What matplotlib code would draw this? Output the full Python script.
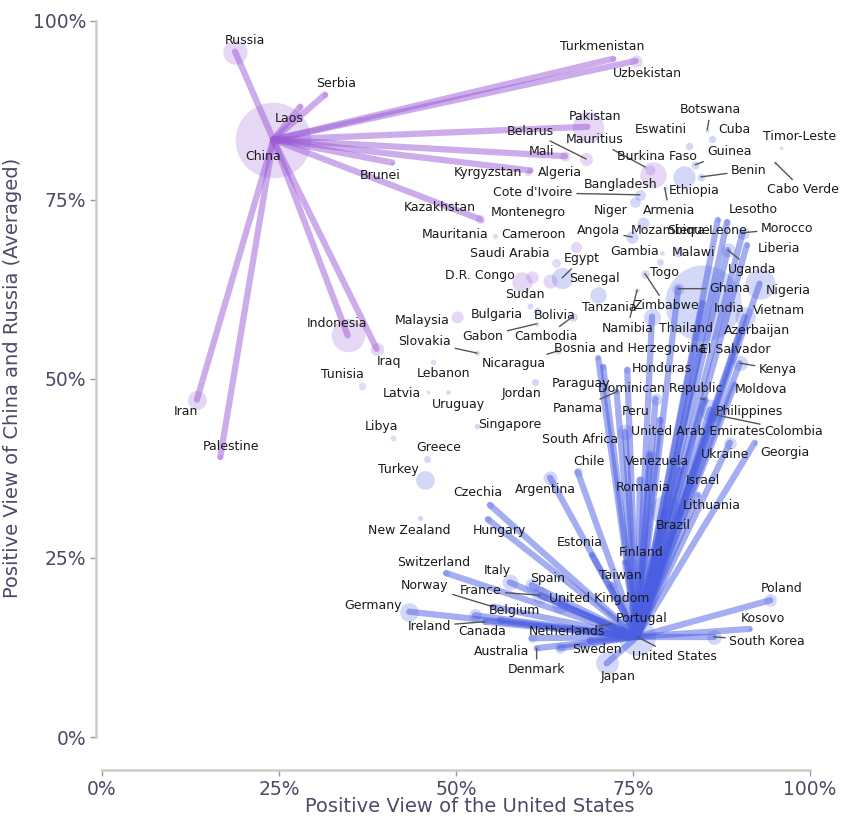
import matplotlib
matplotlib.use("Agg")
import matplotlib.pyplot as plt

# positive views (%), population in millions (circle area)
countries = [
    "China", "Russia", "Serbia", "Laos", "Turkmenistan", "Uzbekistan", "Pakistan",
    "Belarus", "Mali", "Kyrgyzstan", "Algeria", "Brunei", "Kazakhstan", "Indonesia",
    "Iraq", "Iran", "Palestine", "Montenegro", "Mauritania", "Cameroon",
    "Saudi Arabia", "D.R. Congo", "Sudan", "Senegal", "Egypt", "Malaysia",
    "Bulgaria", "Bolivia", "Gabon", "Cambodia", "Slovakia", "Lebanon", "Tunisia",
    "Latvia", "Libya", "Uruguay", "Greece", "Turkey", "New Zealand", "Nicaragua",
    "Jordan", "Singapore", "Botswana", "Cuba", "Eswatini", "Timor-Leste",
    "Mauritius", "Bangladesh", "Burkina Faso", "Guinea", "Ethiopia", "Benin",
    "Cabo Verde", "Cote d'Ivoire", "Niger", "Armenia", "Angola", "Mozambique",
    "Gambia", "Malawi", "Togo", "Zimbabwe", "Namibia", "Tanzania", "Lesotho",
    "Sierra Leone", "Morocco", "Liberia", "Uganda", "Ghana", "Nigeria", "India",
    "Vietnam", "Thailand", "Azerbaijan", "El Salvador", "Kenya", "Moldova",
    "Philippines", "Colombia", "Dominican Republic", "United Arab Emirates", "Peru",
    "Honduras", "Panama", "Paraguay", "Bosnia and Herzegovina", "Brazil",
    "South Africa", "Ukraine", "Georgia", "Chile", "Argentina", "Venezuela",
    "Romania", "Israel", "Lithuania", "Czechia", "Hungary", "Estonia", "Finland",
    "Taiwan", "Switzerland", "Italy", "Spain", "France", "United Kingdom", "Norway",
    "Germany", "Belgium", "Ireland", "Canada", "Portugal", "Netherlands",
    "Australia", "Denmark", "Sweden", "United States", "Japan", "Poland", "Kosovo",
    "South Korea",
]
us_view = [
    24.2, 18.8, 31.5, 28.0, 72.2, 75.4, 68.6,
    68.4, 65.4, 60.2, 60.5, 41.0, 53.4, 34.7,
    38.8, 13.4, 16.7, 53.7, 55.5, 66.9,
    60.7, 59.3, 63.3, 64.1, 65.0, 50.1,
    60.5, 61.4, 61.4, 66.5, 53.0, 46.8, 36.7,
    46.0, 41.1, 48.9, 45.9, 45.6, 44.9, 64.4,
    61.2, 53.0, 85.5, 86.2, 82.9, 95.9,
    76.7, 77.8, 77.4, 83.8, 82.2, 84.6,
    95.1, 76.0, 75.3, 79.5, 74.9, 76.4,
    79.1, 81.4, 78.8, 76.7, 75.6, 70.1, 87.0,
    88.3, 90.5, 91.1, 88.4, 81.4, 92.9, 84.9,
    90.8, 77.7, 90.3, 84.5, 90.1, 89.4,
    85.9, 86.6, 85.2, 78.8, 78.2,
    74.2, 72.7, 70.8, 70.1, 79.5,
    73.9, 88.7, 92.2, 67.2, 63.3, 77.4,
    76.0, 81.6, 84.2, 54.8, 54.5, 69.2, 73.9,
    72.0, 48.6, 57.6, 60.7, 61.9, 64.7, 55.2,
    43.4, 56.2, 54.1, 52.7, 70.3, 60.7,
    64.7, 61.4, 68.9, 75.6, 71.3, 94.4, 91.5,
    86.4,
]
cr_view = [
    83.4, 95.7, 89.7, 88.0, 94.7, 94.4, 85.2,
    80.7, 81.1, 78.8, 79.1, 80.2, 72.3, 56.1,
    54.2, 47.1, 39.1, 72.1, 70.0, 68.4,
    64.2, 63.5, 63.7, 66.2, 64.1, 58.7,
    60.2, 59.5, 57.7, 58.7, 53.6, 52.4, 49.0,
    48.2, 41.8, 48.2, 38.8, 35.9, 30.6, 53.9,
    49.6, 43.4, 84.8, 83.5, 82.5, 82.3,
    79.6, 78.5, 79.2, 79.9, 78.2, 78.2,
    80.2, 75.7, 74.7, 76.7, 69.8, 71.8,
    67.6, 67.7, 66.3, 64.7, 62.4, 61.7, 72.2,
    71.9, 70.4, 68.7, 68.0, 62.6, 63.3, 60.6,
    58.7, 58.7, 56.8, 54.0, 52.2, 49.2,
    45.7, 45.0, 47.1, 44.3, 47.2,
    51.3, 48.2, 51.7, 52.9, 31.7,
    42.6, 41.1, 41.1, 37.0, 36.2, 39.4,
    35.9, 37.3, 33.8, 32.4, 30.4, 25.4, 24.4,
    21.2, 22.9, 21.6, 21.2, 19.8, 18.4, 18.2,
    17.5, 16.3, 16.1, 17.0, 15.5, 13.8,
    12.4, 12.4, 13.5, 14.0, 10.3, 19.1, 15.1,
    14.0,
]
population = [
    1410, 144, 7, 7.5, 6.5, 35, 240,
    40, 22, 7, 8, 0.5, 19, 275,
    43, 88, 5, 0.6, 4.8, 28,
    36, 100, 47, 17, 110, 34,
    6.5, 12, 2.4, 17, 5.4, 5.5, 12,
    1.9, 7, 3.4, 10, 85, 5, 6.9,
    11, 6, 2.6, 11, 12, 1.3,
    1.3, 170, 22, 14, 120, 13,
    0.6, 28, 26, 2.8, 36, 33,
    2.7, 20, 9, 16, 2.6, 65, 2.3,
    8.6, 37, 5.4, 48, 34, 225, 1430,
    100, 70, 10, 6.3, 55, 2.5,
    115, 52, 11, 10, 34,
    10, 4.4, 7, 3.2, 215,
    60, 37, 3.7, 19, 46, 28,
    19, 9.7, 2.8, 10.5, 9.6, 1.3, 5.5,
    23, 8.7, 59, 48, 68, 67, 5.5,
    84, 11.7, 5.1, 39, 10, 17.8,
    26, 5.9, 10.5, 335, 125, 38, 1.8,
    52,
]
linked = {
    "Russia", "Serbia", "Laos", "Turkmenistan", "Uzbekistan", "Pakistan", "Mali",
    "Algeria", "Brunei", "Kazakhstan", "Indonesia", "Iraq", "Iran", "Palestine",
    "Lesotho", "Sierra Leone", "Morocco", "Liberia", "Uganda", "Ghana", "Nigeria",
    "India", "Vietnam", "Thailand", "Azerbaijan", "El Salvador", "Kenya", "Moldova",
    "Philippines", "Colombia", "Dominican Republic", "United Arab Emirates", "Peru",
    "Honduras", "Panama", "Paraguay", "Bosnia and Herzegovina", "Brazil",
    "South Africa", "Ukraine", "Georgia", "Chile", "Argentina", "Venezuela",
    "Romania", "Israel", "Lithuania", "Czechia", "Hungary", "Estonia", "Finland",
    "Taiwan", "Switzerland", "Italy", "Spain", "France", "United Kingdom", "Norway",
    "Germany", "Belgium", "Ireland", "Canada", "Portugal", "Netherlands",
    "Australia", "Denmark", "Sweden", "Japan", "Poland", "Kosovo", "South Korea",
}

# where each label sits (layout only), and which labels need a leader line
label_xy = {
    "China": (22.7, 81.0), "Russia": (20.2, 97.3), "Serbia": (33.1, 91.3),
    "Laos": (26.4, 86.3), "Turkmenistan": (70.6, 96.4), "Uzbekistan": (77.1, 92.7),
    "Pakistan": (69.6, 86.7), "Belarus": (60.5, 84.6), "Mali": (62.1, 81.7),
    "Kyrgyzstan": (54.5, 78.8), "Algeria": (64.7, 78.8), "Brunei": (39.3, 78.4),
    "Kazakhstan": (47.7, 73.9), "Indonesia": (33.2, 57.7), "Iraq": (40.5, 52.4),
    "Iran": (11.9, 45.4), "Palestine": (18.2, 40.5), "Montenegro": (60.2, 73.2),
    "Mauritania": (49.9, 70.1), "Cameroon": (61.0, 70.1), "Saudi Arabia": (57.6, 67.5),
    "D.R. Congo": (53.4, 64.4), "Sudan": (59.7, 61.8), "Senegal": (69.6, 64.0),
    "Egypt": (67.8, 66.8), "Malaysia": (45.3, 58.1), "Bulgaria": (55.8, 59.0),
    "Bolivia": (64.0, 58.9), "Gabon": (53.8, 55.9), "Cambodia": (62.7, 55.9),
    "Slovakia": (45.6, 55.2), "Lebanon": (48.3, 50.7), "Tunisia": (34.0, 50.6),
    "Latvia": (42.4, 47.9), "Libya": (39.5, 43.3), "Uruguay": (50.3, 46.4),
    "Greece": (47.5, 40.4), "Turkey": (41.8, 37.4), "New Zealand": (43.4, 28.9),
    "Nicaragua": (58.2, 52.1), "Jordan": (59.2, 47.9), "Singapore": (57.6, 43.7),
    "Botswana": (86.0, 87.6), "Cuba": (89.4, 84.8), "Eswatini": (79.0, 84.8),
    "Timor-Leste": (98.6, 83.8), "Mauritius": (69.6, 83.4), "Bangladesh": (73.3, 77.2),
    "Burkina Faso": (78.4, 81.1), "Guinea": (88.7, 81.7), "Ethiopia": (83.6, 76.3),
    "Benin": (91.4, 79.1), "Cabo Verde": (99.0, 76.4), "Cote d'Ivoire": (60.9, 76.0),
    "Niger": (71.9, 73.5), "Armenia": (80.1, 73.5), "Angola": (70.1, 70.7),
    "Mozambique": (80.4, 70.7), "Gambia": (75.2, 67.8), "Malawi": (83.6, 67.7),
    "Togo": (79.5, 64.9), "Zimbabwe": (79.7, 60.2), "Namibia": (74.2, 57.1),
    "Tanzania": (71.6, 59.9), "Lesotho": (92.0, 73.6), "Sierra Leone": (85.5, 70.7),
    "Morocco": (96.8, 71.0), "Liberia": (95.6, 68.2), "Uganda": (91.8, 65.3),
    "Ghana": (88.7, 62.6), "Nigeria": (97.0, 62.4), "India": (88.6, 59.8),
    "Vietnam": (95.6, 59.5), "Thailand": (82.5, 57.1), "Azerbaijan": (92.5, 56.7),
    "El Salvador": (89.4, 54.1), "Kenya": (95.5, 51.3), "Moldova": (93.1, 48.5),
    "Philippines": (91.5, 45.5), "Colombia": (97.7, 42.7),
    "Dominican Republic": (78.9, 48.6), "United Arab Emirates": (84.2, 42.7),
    "Peru": (75.4, 45.4), "Honduras": (79.1, 51.5), "Panama": (67.2, 45.8),
    "Paraguay": (67.7, 49.3), "Bosnia and Herzegovina": (74.6, 54.2),
    "Brazil": (80.7, 29.5), "South Africa": (67.5, 41.5), "Ukraine": (88.0, 39.4),
    "Georgia": (96.5, 39.7), "Chile": (68.8, 38.5), "Argentina": (62.7, 34.5),
    "Venezuela": (78.4, 38.5), "Romania": (76.5, 34.9), "Israel": (84.9, 35.8),
    "Lithuania": (86.2, 32.3), "Czechia": (53.1, 34.1), "Hungary": (56.2, 28.8),
    "Estonia": (67.5, 27.1), "Finland": (76.1, 25.7), "Taiwan": (73.3, 22.6),
    "Switzerland": (46.8, 24.4), "Italy": (55.8, 23.3), "Spain": (62.9, 22.2),
    "France": (53.5, 20.4), "United Kingdom": (70.3, 19.4), "Norway": (45.6, 21.1),
    "Germany": (38.3, 18.3), "Belgium": (58.2, 17.6), "Ireland": (46.2, 15.5),
    "Canada": (53.7, 14.8), "Portugal": (76.3, 16.6), "Netherlands": (65.7, 14.8),
    "Australia": (56.5, 12.0), "Denmark": (61.4, 9.4), "Sweden": (69.9, 12.2),
    "United States": (80.9, 11.3), "Japan": (72.9, 8.5), "Poland": (96.0, 20.7),
    "Kosovo": (93.4, 16.6), "South Korea": (94.0, 13.4),
}
leaders = {
    "Belarus", "Mauritius", "Botswana", "Guinea", "Benin", "Cabo Verde",
    "Cote d'Ivoire", "Armenia", "Angola", "Morocco", "Uganda", "Ghana", "Egypt",
    "Gabon", "Cambodia", "Slovakia", "Nicaragua", "Zimbabwe", "Namibia", "Panama",
    "Dominican Republic", "Colombia", "Kenya", "Norway", "France", "Ireland",
    "Portugal", "Denmark", "United States", "South Korea",
}

PURPLE = "#9a5bd6"
BLUE = "#4a5ee2"
AXIS_TEXT = "#4b4a68"

fig = plt.figure(figsize=(8.65, 8.21), dpi=100)
ax = fig.add_axes([0.111, 0.0621, 0.8416, 0.9257])

china = countries.index("China")
usa = countries.index("United States")

for i, name in enumerate(countries):
    x, y = us_view[i], cr_view[i]
    pro_china = y > x
    color = PURPLE if pro_china else BLUE
    if name in linked:
        hub = china if pro_china else usa
        ax.plot([us_view[hub], x], [cr_view[hub], y], color=color, lw=4.5,
                alpha=0.5, solid_capstyle="round", zorder=2)
    ax.scatter(x, y, s=population[i] * 2.1 + 4, color=color, alpha=0.24,
               linewidths=0, zorder=3)

for i, name in enumerate(countries):
    lx, ly = label_xy[name]
    if name in leaders:
        ax.annotate(name, xy=(us_view[i], cr_view[i]), xytext=(lx, ly),
                    ha="center", va="center", fontsize=9, color="#1a1a1a",
                    zorder=5,
                    arrowprops=dict(arrowstyle="-", color="#555555", lw=1,
                                    shrinkA=1, shrinkB=0))
    else:
        ax.text(lx, ly, name, ha="center", va="center", fontsize=9,
                color="#1a1a1a", zorder=5)

ax.set_xlim(-0.85, 102)
ax.set_ylim(-4.6, 101.5)
ticks = [0, 25, 50, 75, 100]
ax.set_xticks(ticks)
ax.set_yticks(ticks)
ax.set_xticklabels([f"{t}%" for t in ticks])
ax.set_yticklabels([f"{t}%" for t in ticks])

for side in ["top", "right"]:
    ax.spines[side].set_visible(False)
for side in ["left", "bottom"]:
    ax.spines[side].set_color("#cccccc")
    ax.spines[side].set_linewidth(1.8)
    ax.spines[side].set_bounds(0, 100)

ax.tick_params(length=4, width=1, color="#999999", labelcolor=AXIS_TEXT,
               labelsize=13.5, pad=3)

ax.set_xlabel("Positive View of the United States", fontsize=14,
              color=AXIS_TEXT)
ax.set_ylabel("Positive View of China and Russia (Averaged)", fontsize=14,
              color=AXIS_TEXT)
ax.xaxis.set_label_coords(0.514, -0.036)
ax.yaxis.set_label_coords(-0.102, 0.516)

fig.savefig("out.png", dpi=100)
plt.close(fig)
